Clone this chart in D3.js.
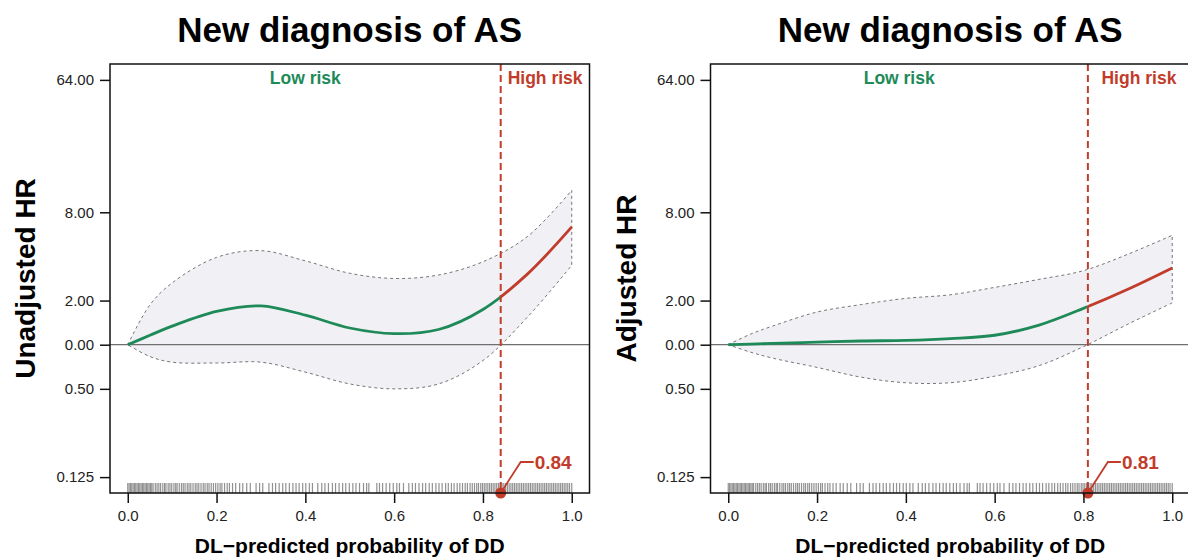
<!DOCTYPE html>
<html>
<head>
<meta charset="utf-8">
<script src="https://cdn.jsdelivr.net/npm/d3@7"></script>
<style>
  body { margin: 0; background: #fff; }
  svg { display: block; font-family: Arial, "Liberation Sans", sans-serif; }
</style>
</head>
<body>
<div id="chart"></div>
<script>
// ---- data ----
const titleText = "New diagnosis of AS";
const xLabel = "DL\u2212predicted probability of DD";
const riskLabels = ["Low risk", "High risk"];
const xTicks = [0, 0.2, 0.4, 0.6, 0.8, 1.0];
const yTicks = [0.125, 0.5, 1, 2, 8, 64];
const yTickLabels = ["0.125", "0.50", "0.00", "2.00", "8.00", "64.00"];

// x positions where the curves were read
const gridX = [0, 0.05, 0.1, 0.2, 0.3, 0.4, 0.5, 0.6, 0.7, 0.8, 0.9, 1.0];

// unadjusted HR (left panel)
const unadjHR    = [1, 1.16, 1.34, 1.69, 1.84, 1.59, 1.30, 1.19, 1.27, 1.74, 3.03, 6.36];
const unadjLower = [1, 0.83, 0.76, 0.75, 0.76, 0.65, 0.54, 0.50, 0.54, 0.78, 1.54, 3.48];
const unadjUpper = [1, 1.87, 2.64, 3.94, 4.38, 3.73, 3.07, 2.83, 2.99, 3.68, 5.46, 11.31];
const unadjCutoff = 0.84;

// adjusted HR (right panel)
const adjHR    = [1, 1.01, 1.02, 1.04, 1.06, 1.07, 1.10, 1.16, 1.36, 1.77, 2.39, 3.34];
const adjLower = [1, 0.89, 0.81, 0.70, 0.60, 0.55, 0.55, 0.61, 0.72, 0.97, 1.38, 1.93];
const adjUpper = [1, 1.18, 1.34, 1.67, 1.88, 2.07, 2.19, 2.46, 2.79, 3.20, 4.14, 5.58];
const adjCutoff = 0.81;

// rug of predicted probabilities (same cohort in both panels)
const rugX = [0.000,0.003,0.006,0.009,0.012,0.015,0.018,0.021,0.024,0.027,0.030,0.033,0.036,0.039,0.042,0.045,0.048,0.051,0.054,0.057,
  0.062,0.066,0.070,0.074,0.079,0.083,0.086,0.091,0.095,0.099,0.104,0.108,0.111,0.116,0.121,0.125,0.129,0.134,0.138,0.142,
  0.147,0.152,0.156,0.160,0.165,0.170,0.174,0.179,0.183,0.188,0.193,0.198,0.203,0.208,0.212,0.218,0.224,0.229,0.236,
  0.243,0.252,0.259,0.268,0.276,0.289,0.297,0.304,0.318,0.326,0.333,0.341,0.349,0.356,0.364,0.372,0.379,0.386,0.394,
  0.401,0.409,0.416,0.428,0.437,0.444,0.452,0.461,0.468,0.476,0.484,0.491,0.499,0.507,0.514,0.522,0.531,0.538,0.543,
  0.561,0.567,0.574,0.582,0.590,0.598,0.606,0.612,0.621,0.633,0.641,0.648,0.656,0.664,0.671,0.679,0.686,0.694,0.701,
  0.708,0.716,0.722,0.729,0.735,0.742,0.748,0.754,0.760,0.765,0.771,0.776,0.781,0.786,0.790,0.795,0.799,0.803,0.807,
  0.811,0.815,0.819,0.823,0.827,0.831,0.835,0.839,0.843,0.847,0.851,0.855,0.859,0.863,0.867,0.871,0.875,0.879,0.883,
  0.887,0.891,0.895,0.899,0.903,0.907,0.911,0.915,0.919,0.923,0.927,0.931,0.935,0.939,0.943,0.947,0.951,0.955,0.959,
  0.963,0.967,0.971,0.975,0.979,0.983,0.987,0.991,0.995,1.000];

const green = "#1d8a58";
const red = "#c23c2b";

const width = 1188, height = 559;
const svg = d3.select("#chart").append("svg")
  .attr("width", width)
  .attr("height", height);

function drawPanel(opts) {
  const left = opts.offset + 110, right = opts.offset + 589.5;
  const top = 64, bottom = 493;

  const x = d3.scaleLinear().domain([-0.04, 1.04]).range([left, right]);
  const y = d3.scaleLog().base(2).domain([Math.pow(2, -3.36), Math.pow(2, 6.36)]).range([bottom, top]);

  const g = svg.append("g");
  const pts = gridX.map((d, i) => ({ x: d, hr: opts.hr[i], lo: opts.lo[i], hi: opts.hi[i] }));

  // clip paths for the low/high risk parts of the curve
  const defs = g.append("defs");
  defs.append("clipPath").attr("id", opts.id + "-low")
    .append("rect").attr("x", left).attr("y", top).attr("width", x(opts.cutoff) - left).attr("height", bottom - top);
  defs.append("clipPath").attr("id", opts.id + "-high")
    .append("rect").attr("x", x(opts.cutoff)).attr("y", top).attr("width", right - x(opts.cutoff)).attr("height", bottom - top);

  // confidence band
  const band = d3.area()
    .x(d => x(d.x))
    .y0(d => y(d.lo))
    .y1(d => y(d.hi))
    .curve(d3.curveCatmullRom.alpha(0.5));
  g.append("path")
    .datum(pts)
    .attr("d", band)
    .attr("fill", "#f0f0f5")
    .attr("stroke", "#666")
    .attr("stroke-width", 0.9)
    .attr("stroke-dasharray", "3,3");

  // reference line at HR = 1
  g.append("line")
    .attr("x1", left).attr("x2", right)
    .attr("y1", y(1)).attr("y2", y(1))
    .attr("stroke", "#6f6f6f")
    .attr("stroke-width", 1.3);

  // HR curve, green below cutoff and red above it
  const line = d3.line()
    .x(d => x(d.x))
    .y(d => y(d.hr))
    .curve(d3.curveCatmullRom.alpha(0.5));
  [["low", green], ["high", red]].forEach(([part, col]) => {
    g.append("path")
      .datum(pts)
      .attr("d", line)
      .attr("fill", "none")
      .attr("stroke", col)
      .attr("stroke-width", 2.8)
      .attr("clip-path", `url(#${opts.id}-${part})`);
  });

  // rug
  g.append("g").selectAll("line")
    .data(rugX)
    .join("line")
    .attr("x1", d => x(d)).attr("x2", d => x(d))
    .attr("y1", bottom - 10).attr("y2", bottom)
    .attr("stroke", "#8c8c8c")
    .attr("stroke-width", 1.2)
    .attr("opacity", 0.95);

  // cutoff line
  const cx = x(opts.cutoff);
  g.append("line")
    .attr("x1", cx).attr("x2", cx)
    .attr("y1", top).attr("y2", bottom)
    .attr("stroke", red)
    .attr("stroke-width", 2)
    .attr("stroke-dasharray", "7,4");

  // cutoff marker with leader line and value
  g.append("polyline")
    .attr("points", `${cx},${bottom} ${cx + 20},${bottom - 31} ${cx + 33},${bottom - 31}`)
    .attr("fill", "none")
    .attr("stroke", red)
    .attr("stroke-width", 1.8);
  g.append("circle")
    .attr("cx", cx).attr("cy", bottom)
    .attr("r", 5.5)
    .attr("fill", red);
  g.append("text")
    .attr("x", cx + 34).attr("y", bottom - 24)
    .attr("fill", red)
    .attr("font-size", 19)
    .attr("font-weight", "bold")
    .text(opts.cutoff.toFixed(2));

  // plot box
  g.append("rect")
    .attr("x", left).attr("y", top)
    .attr("width", right - left).attr("height", bottom - top)
    .attr("fill", "none")
    .attr("stroke", "#111")
    .attr("stroke-width", 1.5);

  // axes
  const yAxis = g.append("g")
    .attr("transform", `translate(${left},0)`)
    .call(d3.axisLeft(y).tickValues(yTicks).tickFormat((d, i) => yTickLabels[i]).tickSize(10).tickPadding(6));
  yAxis.select(".domain").remove();

  const xAxis = g.append("g")
    .attr("transform", `translate(0,${bottom})`)
    .call(d3.axisBottom(x).tickValues(xTicks).tickFormat(d3.format(".1f")).tickSize(10).tickPadding(7));
  xAxis.select(".domain").remove();

  [yAxis, xAxis].forEach(a => {
    a.selectAll("line").attr("stroke", "#111").attr("stroke-width", 1.5);
    a.selectAll("text").attr("font-size", 15).attr("fill", "#222")
      .attr("font-family", 'Arial, "Liberation Sans", sans-serif');
  });

  // risk region labels
  g.append("text")
    .attr("x", (left + cx) / 2).attr("y", 84)
    .attr("text-anchor", "middle")
    .attr("fill", green)
    .attr("font-size", 17.5)
    .attr("font-weight", "bold")
    .text(riskLabels[0]);
  g.append("text")
    .attr("x", (cx + right) / 2).attr("y", 84)
    .attr("text-anchor", "middle")
    .attr("fill", red)
    .attr("font-size", 17.5)
    .attr("font-weight", "bold")
    .text(riskLabels[1]);

  // titles
  g.append("text")
    .attr("x", (left + right) / 2).attr("y", 42)
    .attr("text-anchor", "middle")
    .attr("font-size", 35)
    .attr("font-weight", "bold")
    .text(titleText);

  g.append("text")
    .attr("x", (left + right) / 2).attr("y", 553)
    .attr("text-anchor", "middle")
    .attr("font-size", 21)
    .attr("font-weight", "bold")
    .text(xLabel);

  g.append("text")
    .attr("transform", `translate(${opts.offset + 35},${(top + bottom) / 2}) rotate(-90)`)
    .attr("text-anchor", "middle")
    .attr("font-size", 28)
    .attr("font-weight", "bold")
    .text(opts.yLabel);
}

drawPanel({ id: "unadj", offset: 0, yLabel: "Unadjusted HR", hr: unadjHR, lo: unadjLower, hi: unadjUpper, cutoff: unadjCutoff });
drawPanel({ id: "adj", offset: 600.5, yLabel: "Adjusted HR", hr: adjHR, lo: adjLower, hi: adjUpper, cutoff: adjCutoff });
</script>
</body>
</html>
